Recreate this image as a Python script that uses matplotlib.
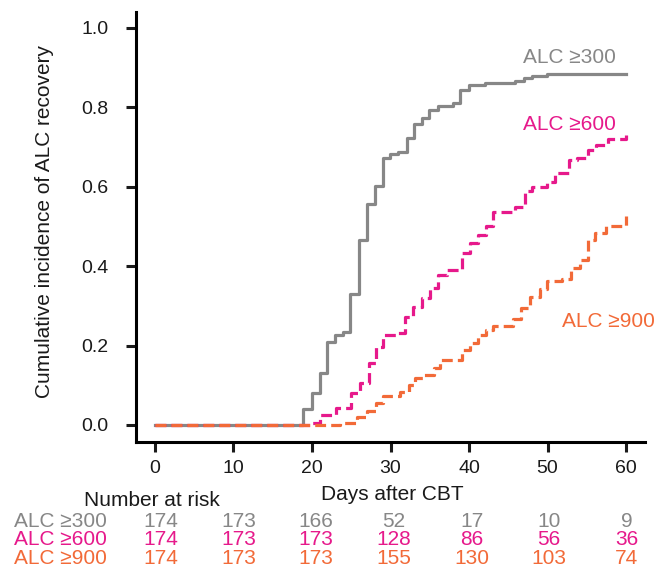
"""Cumulative incidence of ALC recovery after CBT, with number at risk table"""

import numpy as np
import matplotlib
matplotlib.use("Agg")
import matplotlib.pyplot as plt
import matplotlib.transforms as mtransforms

plt.rcParams['font.family'] = ['Liberation Sans', 'DejaVu Sans']


"""Step curves read off the figure: day of each step and value after it"""
days300 = [0, 18.9, 20.0, 21.0, 21.9, 22.9, 24.0, 24.9, 26.0, 27.0, 28.0, 29.0, 29.9,
           31.0, 32.1, 33.0, 34.0, 34.9, 36.0, 38.0, 38.9, 40.0, 42.0, 45.9, 47.0,
           48.0, 49.9, 60.0]
cum300 = [0, 0.04, 0.08, 0.13, 0.21, 0.227, 0.235, 0.33, 0.466, 0.557, 0.603, 0.672,
          0.682, 0.688, 0.722, 0.758, 0.773, 0.792, 0.803, 0.81, 0.844, 0.856, 0.862,
          0.867, 0.873, 0.879, 0.884, 0.884]

days600 = [0, 20.0, 21.0, 23.1, 25.0, 26.1, 27.2, 28.2, 29.1, 30.8, 31.8, 32.9, 34.0,
           35.0, 36.1, 37.2, 39.1, 40.1, 41.2, 42.2, 43.1, 45.8, 47.1, 48.0, 49.9,
           51.0, 52.7, 53.7, 55.2, 56.1, 57.7, 60.0]
cum600 = [0, 0.006, 0.025, 0.042, 0.081, 0.105, 0.155, 0.197, 0.227, 0.232, 0.273,
          0.298, 0.319, 0.344, 0.378, 0.389, 0.432, 0.458, 0.479, 0.5, 0.537, 0.55,
          0.588, 0.6, 0.613, 0.634, 0.667, 0.672, 0.693, 0.705, 0.72, 0.73]

days900 = [0, 23.6, 25.7, 27.0, 28.2, 29.1, 31.2, 32.3, 33.1, 34.2, 35.5, 36.3, 39.1,
           40.1, 41.2, 42.2, 43.1, 45.6, 46.6, 47.8, 49.0, 49.9, 51.8, 53.0, 54.1,
           55.1, 56.0, 57.4, 60.0]
cum900 = [0, 0.006, 0.021, 0.034, 0.055, 0.073, 0.084, 0.101, 0.118, 0.126, 0.143,
          0.164, 0.189, 0.206, 0.227, 0.239, 0.248, 0.266, 0.295, 0.323, 0.343, 0.362,
          0.367, 0.395, 0.416, 0.466, 0.484, 0.5, 0.525]

"""Number at risk table"""
risk_days = [0, 10, 20, 30, 40, 50, 60]
risk300 = [174, 173, 166, 52, 17, 10, 9]
risk600 = [174, 173, 173, 128, 86, 56, 36]
risk900 = [174, 173, 173, 155, 130, 103, 74]

groups = ["ALC \u2265300", "ALC \u2265600", "ALC \u2265900"]
colors = ["#878787", "#e6198b", "#f26a38"]


fig = plt.figure(figsize=(6.55, 5.68), dpi=100)
ax = fig.add_axes([136/655, 1-442/568, 509/655, 430/568])

lw = 2.3
ax.step(days300, cum300, where='post', color=colors[0], lw=lw, zorder=3)
ax.step(days600, cum600, where='post', color=colors[1], lw=lw, dashes=(3.4, 1.6), zorder=4)
ax.step(days900, cum900, where='post', color=colors[2], lw=lw, dashes=(3.4, 1.6), zorder=5)

# curve labels
ax.text(46.9, 0.912, groups[0], color=colors[0], fontsize=15, va='baseline')
ax.text(46.9, 0.743, groups[1], color=colors[1], fontsize=15, va='baseline')
ax.text(51.8, 0.247, groups[2], color=colors[2], fontsize=15, va='baseline', clip_on=False)

ax.set_xlim(-2.4, 62.4)
ax.set_ylim(-0.043, 1.04)
ax.set_xticks(risk_days)
ax.set_yticks(np.arange(0, 1.01, 0.2))
ax.set_yticklabels(["%.1f" % v for v in np.arange(0, 1.01, 0.2)])

for s in ["top", "right"]:
    ax.spines[s].set_visible(False)
for s in ["left", "bottom"]:
    ax.spines[s].set_linewidth(2.2)

ax.tick_params(axis='both', direction='out', length=7.2, width=2.2, labelsize=14,
               colors='#1a1a1a')
ax.tick_params(axis='x', pad=6)
ax.tick_params(axis='y', pad=12.5)

fig.text(45/655, 1-222/568, "Cumulative incidence of ALC recovery", rotation=90,
         ha='center', va='center', fontsize=15, color='#1a1a1a')
fig.text(392/655, 1-500/568, "Days after CBT", ha='center', va='baseline',
         fontsize=15, color='#1a1a1a')

"""Number at risk rows under the axis"""
fig.text(152/655, 1-506/568, "Number at risk", ha='center', va='baseline',
         fontsize=15, color='#1a1a1a')
trans = mtransforms.blended_transform_factory(ax.transData, fig.transFigure)
rows = [risk300, risk600, risk900]
baselines = [526.7, 545.0, 564.0]
for i in range(3):
    yb = 1 - baselines[i]/568
    fig.text(14/655, yb, groups[i], color=colors[i], fontsize=15, va='baseline')
    for d, n in zip(risk_days, rows[i]):
        ax.text(0.76 + 0.989*d, yb, str(n), transform=trans, color=colors[i],
                fontsize=15, ha='center', va='baseline', clip_on=False)

fig.savefig("out.png", dpi=100)
